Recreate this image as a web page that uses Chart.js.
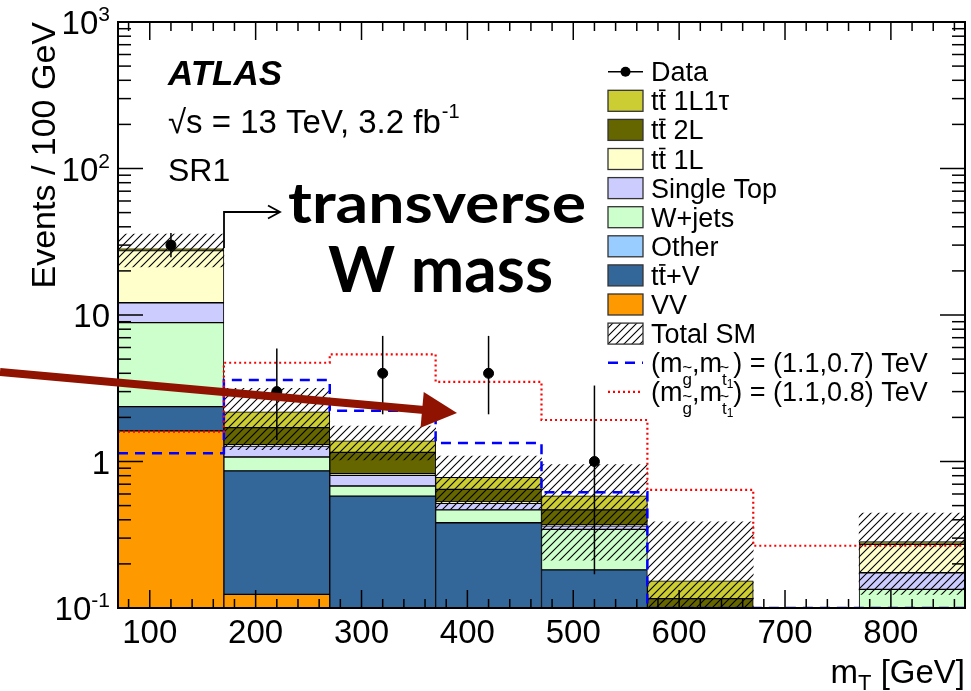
<!DOCTYPE html>
<html>
<head>
<meta charset="utf-8">
<script src="https://cdn.jsdelivr.net/npm/chart.js@4.4.0/dist/chart.umd.min.js"></script>
<style>
    html, body { margin: 0; padding: 0; background: #fff; }
    #wrap { width: 971px; height: 691px; position: relative; }
</style>
</head>
<body>
<div id="wrap"><canvas id="mtChart"></canvas></div>
<script>
// --- DATA ---
const binEdges   = [70, 170, 270, 370, 470, 570, 670, 770, 870];
const binCenters = [120, 220, 320, 420, 520, 620, 720, 820];
const xTickLabels = [100, 200, 300, 400, 500, 600, 700, 800];
const yTickValues = [0.1, 1, 10, 100, 1000];
const yTickLabels = [['10', '-1'], ['1', ''], ['10', ''], ['10', '2'], ['10', '3']];

// backgrounds, bottom of the stack first
const vv        = [1.62, 0.124, 0, 0, 0, 0, 0, 0];
const ttV       = [0.75, 0.74, 0.58, 0.382, 0.182, 0, 0, 0];
const other     = [0, 0, 0, 0, 0, 0, 0, 0];
const wJets     = [6.49, 0.21, 0.10, 0.085, 0.162, 0, 0, 0.134];
const singleTop = [3.27, 0.20, 0.125, 0.052, 0.02, 0, 0, 0.04];
const tt1L      = [15.4, 0.03, 0.02, 0.01, 0.005, 0, 0, 0.098];
const tt2L      = [0.45, 0.40, 0.33, 0.117, 0.098, 0.116, 0, 0.006];
const tt1L1tau  = [0.55, 0.48, 0.23, 0.134, 0.115, 0.037, 0, 0.006];
const totalErr  = [7.2, 0.98, 0.36, 0.31, 0.37, 0.235, 0, 0.16];

const dataCounts  = [30, 3, 4, 4, 1, 0, 0, 0];
const dataErrUp   = [6.3, 2.9, 3.2, 3.2, 2.3, 0, 0, 0];
const dataErrDown = [5.2, 1.6, 1.9, 1.9, 0.83, 0, 0, 0];

const signal1100_700 = [1.14, 3.6, 2.22, 1.34, 0.616, 0.1, 0.1, 0.1];
const signal1100_800 = [1.6, 4.72, 5.39, 3.5, 1.92, 0.64, 0.266, 0.266];

// a log axis cannot show 0, so the stack starts well below the visible floor
const stackBase = 1e-3;

// --- STYLES ---
const FONT = '"Liberation Sans", Arial, sans-serif';
const components = [
    { label: 'VV',         values: vv,        color: '#ff9900' },
    { label: 'tt+V',       values: ttV,       color: '#336699', ttbar: true, rest: '+V' },
    { label: 'Other',      values: other,     color: '#99ccff' },
    { label: 'W+jets',     values: wJets,     color: '#ccffcc' },
    { label: 'Single Top', values: singleTop, color: '#ccccff' },
    { label: 'tt 1L',      values: tt1L,      color: '#ffffcc', ttbar: true, rest: ' 1L' },
    { label: 'tt 2L',      values: tt2L,      color: '#666600', ttbar: true, rest: ' 2L' },
    { label: 'tt 1L1τ',    values: tt1L1tau,  color: '#cccc33', ttbar: true, rest: ' 1L1τ' }
];

function makeHatch() {
    const c = document.createElement('canvas');
    c.width = 8; c.height = 8;
    const g = c.getContext('2d');
    g.strokeStyle = '#000';
    g.lineWidth = 1.1;
    g.beginPath();
    g.moveTo(0, 8); g.lineTo(8, 0);
    g.moveTo(-2, 2); g.lineTo(2, -2);
    g.moveTo(6, 10); g.lineTo(10, 6);
    g.stroke();
    return g.createPattern(c, 'repeat');
}
const hatch = makeHatch();

// --- DATASETS ---
const datasets = [];

// data points (on top)
datasets.push({
    type: 'line', label: 'Data',
    data: binCenters.map((x, i) => ({ x, y: dataCounts[i] })).filter(p => p.y > 0),
    showLine: false, pointRadius: 5, pointBackgroundColor: '#000', pointBorderColor: '#000',
    order: 0
});

function stepPoints(values) {
    const pts = values.map((v, i) => ({ x: binEdges[i], y: v }));
    pts.push({ x: binEdges[binEdges.length - 1], y: values[values.length - 1] });
    return pts;
}
datasets.push({
    type: 'line', label: 'sig 1.1/0.8', data: stepPoints(signal1100_800), stepped: true,
    borderColor: '#ff0000', borderWidth: 2.2, borderDash: [2, 3], pointRadius: 0, fill: false, order: 1
});
datasets.push({
    type: 'line', label: 'sig 1.1/0.7', data: stepPoints(signal1100_700), stepped: true,
    borderColor: '#0000ff', borderWidth: 2.5, borderDash: [10, 7], pointRadius: 0, fill: false, order: 2
});

// stacked backgrounds as floating bars
const running = binCenters.map(() => 0);
components.forEach(comp => {
    const pts = [];
    comp.values.forEach((v, i) => {
        if (v > 0) pts.push({ x: binCenters[i], y: [running[i] || stackBase, running[i] + v] });
        running[i] += v;
    });
    datasets.push({
        type: 'bar', label: comp.label, data: pts,
        backgroundColor: comp.color, borderColor: '#000', borderWidth: 1, borderSkipped: false,
        grouped: false, barPercentage: 1, categoryPercentage: 1, order: 10
    });
});

// total SM uncertainty band
datasets.push({
    type: 'bar', label: 'Total SM',
    data: binCenters.map((x, i) => ({ x, y: [Math.max(running[i] - totalErr[i], stackBase), running[i] + totalErr[i]] }))
        .filter((p, i) => running[i] > 0),
    backgroundColor: hatch, borderWidth: 0,
    grouped: false, barPercentage: 1, categoryPercentage: 1, order: 5
});

// --- DRAWING HELPERS ---
function line(ctx, x1, y1, x2, y2) {
    ctx.beginPath(); ctx.moveTo(x1, y1); ctx.lineTo(x2, y2); ctx.stroke();
}

function drawTT(ctx, x, y, size, rest) {
    ctx.font = `${size}px ${FONT}`;
    const w1 = ctx.measureText('t').width;
    const w2 = ctx.measureText('tt').width;
    ctx.fillText('tt' + rest, x, y);
    ctx.lineWidth = 1.6;
    line(ctx, x + w1 + 0.5, y - size * 0.74, x + w2 - 0.5, y - size * 0.74);
}

function drawMsub(ctx, x, y, size, sub, idx) {
    // "m" with a tilde-topped subscript particle
    ctx.font = `${size}px ${FONT}`;
    ctx.fillText('m', x, y);
    let cx = x + ctx.measureText('m').width;
    const s = Math.round(size * 0.62);
    ctx.font = `${s}px ${FONT}`;
    const ws = ctx.measureText(sub).width;
    ctx.fillText(sub, cx, y + 13);
    ctx.fillText('~', cx + ws / 2 - ctx.measureText('~').width / 2, y + 1);
    let w = ws;
    if (idx) {
        ctx.font = `${Math.round(s * 0.7)}px ${FONT}`;
        ctx.fillText(idx, cx + ws, y + 16);
        w += ctx.measureText(idx).width;
    }
    return cx + w;
}

function fitText(ctx, text, x, y, width, font) {
    ctx.font = font;
    const w = ctx.measureText(text).width;
    ctx.save();
    ctx.translate(x, y);
    ctx.scale(width / w, 1);
    ctx.fillText(text, 0, 0);
    ctx.restore();
}

// --- PLUGIN: ROOT-style frame, ticks, labels, legend and notes ---
const atlasDecor = {
    id: 'atlasDecor',
    afterDatasetsDraw(chart) {
        const ctx = chart.ctx;
        const xs = chart.scales.x, ys = chart.scales.y;
        ctx.save();
        ctx.strokeStyle = '#000';
        ctx.lineWidth = 1.5;
        dataCounts.forEach((n, i) => {
            if (n <= 0) return;
            const px = xs.getPixelForValue(binCenters[i]);
            line(ctx, px, ys.getPixelForValue(n + dataErrUp[i]), px, ys.getPixelForValue(n - dataErrDown[i]));
        });
        ctx.restore();
    },
    afterDraw(chart) {
        const ctx = chart.ctx;
        const a = chart.chartArea;
        const xs = chart.scales.x, ys = chart.scales.y;
        ctx.save();
        ctx.strokeStyle = '#000';
        ctx.fillStyle = '#000';

        // ticks, pointing inwards on all four sides
        ctx.lineWidth = 1.5;
        for (let v = 80; v <= 860; v += 20) {
            const px = xs.getPixelForValue(v);
            const len = v % 100 === 0 ? 18 : 9;
            line(ctx, px, a.bottom, px, a.bottom - len);
            line(ctx, px, a.top, px, a.top + len);
        }
        [0.1, 1, 10, 100].forEach(d => {
            for (let m = 1; m <= 9; m++) {
                const py = ys.getPixelForValue(m * d);
                const len = m === 1 ? 25 : 13;
                line(ctx, a.left, py, a.left + len, py);
                line(ctx, a.right, py, a.right - len, py);
            }
        });
        ctx.lineWidth = 2;
        ctx.strokeRect(a.left, a.top, a.right - a.left, a.bottom - a.top);

        // tick labels
        ctx.textBaseline = 'alphabetic';
        ctx.textAlign = 'center';
        ctx.font = `33px ${FONT}`;
        xTickLabels.forEach(v => ctx.fillText(String(v), xs.getPixelForValue(v), 643));
        ctx.textAlign = 'left';
        yTickValues.forEach((v, i) => {
            const [base, sup] = yTickLabels[i];
            const py = ys.getPixelForValue(v);
            ctx.font = `33px ${FONT}`;
            const wb = ctx.measureText(base).width;
            ctx.font = `21px ${FONT}`;
            const wsup = sup ? ctx.measureText(sup).width : 0;
            const x0 = 110 - wb - wsup;
            ctx.font = `33px ${FONT}`;
            ctx.fillText(base, x0, py + 12);
            if (sup) {
                ctx.font = `21px ${FONT}`;
                ctx.fillText(sup, x0 + wb, py - 1);
            }
        });

        // axis titles
        ctx.save();
        ctx.translate(55, 22);
        ctx.rotate(-Math.PI / 2);
        ctx.textAlign = 'right';
        ctx.font = `34px ${FONT}`;
        ctx.fillText('Events / 100 GeV', 0, 0);
        ctx.restore();

        ctx.font = `33px ${FONT}`;
        const wm = ctx.measureText('m').width;
        const wg = ctx.measureText(' [GeV]').width;
        ctx.font = `22px ${FONT}`;
        const wt = ctx.measureText('T').width;
        let tx = 965 - wm - wt - wg;
        ctx.font = `33px ${FONT}`;
        ctx.fillText('m', tx, 683);
        ctx.font = `22px ${FONT}`;
        ctx.fillText('T', tx + wm, 690);
        ctx.font = `33px ${FONT}`;
        ctx.fillText(' [GeV]', tx + wm + wt, 683);

        // ATLAS label block
        ctx.font = `italic bold 35px ${FONT}`;
        ctx.fillText('ATLAS', 168, 85);
        ctx.font = `33px ${FONT}`;
        const info = '√s = 13 TeV, 3.2 fb';
        ctx.fillText(info, 168, 133);
        const wi = ctx.measureText(info).width;
        ctx.font = `20px ${FONT}`;
        ctx.fillText('-1', 168 + wi + 1, 118);
        ctx.font = `32px ${FONT}`;
        ctx.fillText('SR1', 168, 181);

        // legend
        const lx = 608, lw = 35, lh = 21, tx0 = 651, fs = 27;
        const rowY = i => 71.7 + i * 29.1;
        ctx.lineWidth = 1.5;
        line(ctx, lx, rowY(0), lx + lw, rowY(0));
        ctx.beginPath(); ctx.arc(lx + lw / 2, rowY(0), 5, 0, 2 * Math.PI); ctx.fill();
        ctx.font = `${fs}px ${FONT}`;
        ctx.fillText('Data', tx0, rowY(0) + 9.5);
        const legendOrder = components.slice().reverse();
        legendOrder.forEach((c, k) => {
            const y = rowY(k + 1);
            ctx.fillStyle = c.color;
            ctx.fillRect(lx, y - lh / 2, lw, lh);
            ctx.strokeStyle = '#333';
            ctx.lineWidth = 1.3;
            ctx.strokeRect(lx, y - lh / 2, lw, lh);
            ctx.fillStyle = '#000';
            ctx.strokeStyle = '#000';
            if (c.ttbar) drawTT(ctx, tx0, y + 9.5, fs, c.rest);
            else { ctx.font = `${fs}px ${FONT}`; ctx.fillText(c.label, tx0, y + 9.5); }
        });
        let y = rowY(9);
        ctx.fillStyle = hatch;
        ctx.fillRect(lx, y - lh / 2, lw, lh);
        ctx.strokeStyle = '#333';
        ctx.strokeRect(lx, y - lh / 2, lw, lh);
        ctx.fillStyle = '#000';
        ctx.strokeStyle = '#000';
        ctx.font = `${fs}px ${FONT}`;
        ctx.fillText('Total SM', tx0, y + 9.5);

        const sigRows = [
            { color: '#0000ff', dash: [10, 7], width: 2.5, text: ') = (1.1,0.7) TeV' },
            { color: '#ff0000', dash: [2, 3], width: 2.2, text: ') = (1.1,0.8) TeV' }
        ];
        sigRows.forEach((s, k) => {
            const yy = rowY(10 + k);
            ctx.save();
            ctx.strokeStyle = s.color;
            ctx.lineWidth = s.width;
            ctx.setLineDash(s.dash);
            line(ctx, lx, yy, lx + lw, yy);
            ctx.restore();
            ctx.font = `${fs}px ${FONT}`;
            ctx.fillText('(', tx0, yy + 9.5);
            let cx = tx0 + ctx.measureText('(').width;
            cx = drawMsub(ctx, cx, yy + 9.5, fs, 'g', '');
            ctx.font = `${fs}px ${FONT}`;
            ctx.fillText(',', cx, yy + 9.5);
            cx += ctx.measureText(',').width;
            cx = drawMsub(ctx, cx, yy + 9.5, fs, 't', '1');
            ctx.font = `${fs}px ${FONT}`;
            ctx.fillText(s.text, cx, yy + 9.5);
        });

        // "transverse W mass" note with its bracket arrow
        ctx.lineWidth = 1.8;
        ctx.beginPath();
        ctx.moveTo(224, 248); ctx.lineTo(224, 212); ctx.lineTo(280, 212);
        ctx.moveTo(268, 205.5); ctx.lineTo(280, 212); ctx.lineTo(268, 218.5);
        ctx.stroke();
        fitText(ctx, 'transverse', 288, 223, 298, `bold 56px Lato, "Open Sans", sans-serif`);
        fitText(ctx, 'W mass', 328, 292, 225, `bold 64px Lato, "Open Sans", sans-serif`);

        // big red arrow
        const tip = [457, 413], from = [0, 372];
        const dx = tip[0] - from[0], dy = tip[1] - from[1];
        const L = Math.hypot(dx, dy), ux = dx / L, uy = dy / L;
        const bx = tip[0] - 35 * ux, by = tip[1] - 35 * uy;
        ctx.strokeStyle = '#8f1300';
        ctx.fillStyle = '#8f1300';
        ctx.lineWidth = 8;
        line(ctx, from[0], from[1], bx + 2 * ux, by + 2 * uy);
        ctx.beginPath();
        ctx.moveTo(tip[0], tip[1]);
        ctx.lineTo(bx - 18 * uy, by + 18 * ux);
        ctx.lineTo(bx + 18 * uy, by - 18 * ux);
        ctx.closePath();
        ctx.fill();

        ctx.restore();
    }
};

// --- CHART ---
const ctx = document.getElementById('mtChart').getContext('2d');
new Chart(ctx, {
    data: { datasets },
    options: {
        responsive: true,
        maintainAspectRatio: false,
        animation: false,
        layout: { padding: { left: 118, top: 22, right: 6, bottom: 83 } },
        scales: {
            x: {
                type: 'linear', min: 70, max: 870, offset: false, display: false,
                // ticks on the bin edges, so the bar ruler sees the 100 GeV bin width
                afterBuildTicks: scale => { scale.ticks = binEdges.map(v => ({ value: v })); }
            },
            y: { type: 'logarithmic', min: 0.1, max: 1000, display: false }
        },
        plugins: {
            legend: { display: false },
            tooltip: { enabled: false }
        }
    },
    plugins: [atlasDecor]
});
</script>
</body>
</html>
